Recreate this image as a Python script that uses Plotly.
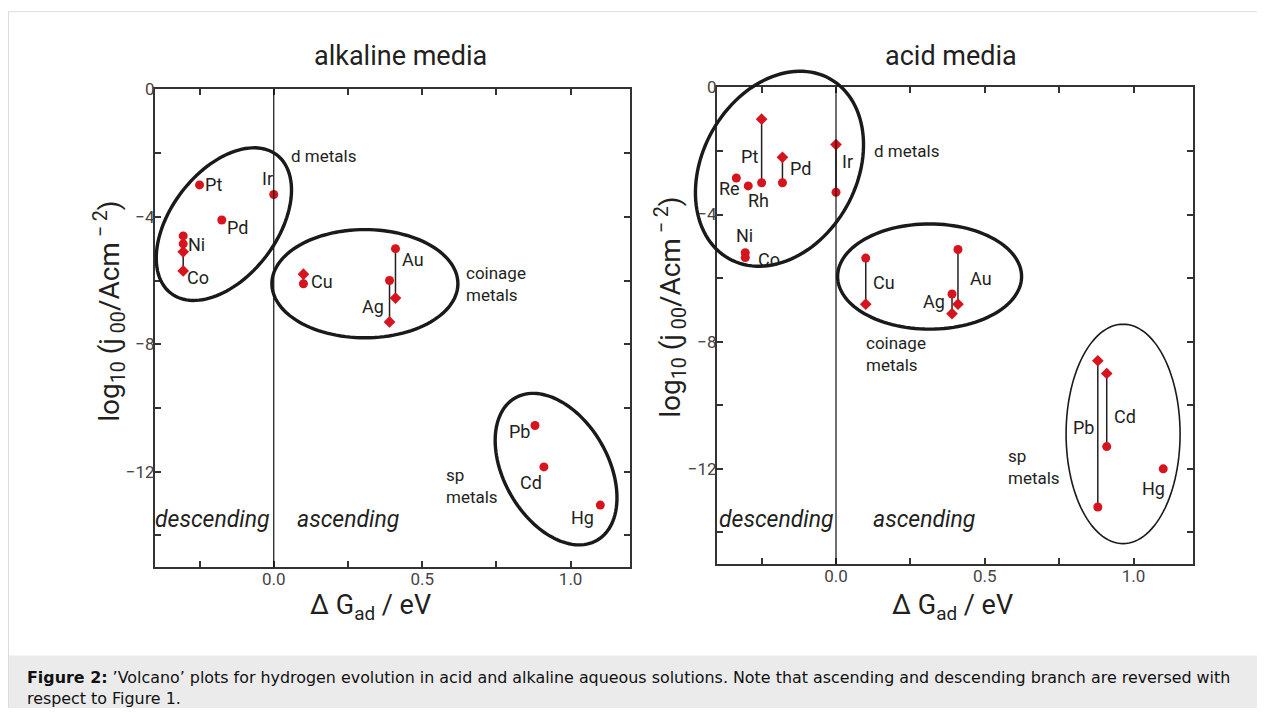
import math
import plotly.graph_objects as go

# ---------------- data ----------------
alk_metals = ["Pt", "Ir", "Pd", "Ni", "Co", "Cu", "Au", "Ag", "Pb", "Cd", "Hg"]
alk_dG = [-0.25, 0.0, -0.175, -0.305, -0.305, 0.10, 0.41, 0.39, 0.88, 0.91, 1.10]
alk_logj_circle = [-3.0, -3.3, -4.1, -4.6, -4.85, -6.1, -5.0, -6.0, -10.55, -11.85, -13.05]
alk_logj_diamond = [None, None, None, -5.1, -5.7, -5.8, -6.55, -7.3, None, None, None]

acid_metals = ["Pt", "Pd", "Ir", "Re", "Rh", "Ni", "Co", "Cu", "Au", "Ag", "Pb", "Cd", "Hg"]
acid_dG = [-0.25, -0.18, 0.0, -0.335, -0.295, -0.305, -0.305, 0.10, 0.41, 0.39, 0.88, 0.91, 1.10]
acid_logj_circle = [-3.0, -3.0, -3.3, -2.85, -3.1, -5.2, -5.35, -5.37, -5.1, -6.5, -13.2, -11.3, -12.0]
acid_logj_diamond = [-1.0, -2.2, -1.8, None, None, None, None, -6.82, -6.82, -7.12, -8.6, -9.0, None]

x_tickvals = [0.0, 0.5, 1.0]
x_ticktext = ["0.0", "0.5", "1.0"]
y_tickvals = [0, -4, -8, -12]
y_ticktext = ["0", "\u22124", "\u22128", "\u221212"]
X_RANGE = [-0.4, 1.2]
Y_RANGE = [-15, 0]

# ---------------- layout geometry (pixels of the 1265x716 page) ----------------
PAGE_OFF = 8                      # default body margin of the html page
W, H = 1265 - 2 * PAGE_OFF, 716 - 2 * PAGE_OFF
V_OFF, V_SCALE = 10.9, 0.9839     # measured vertical placement of the page capture
FONT = "Roboto"
RED = "#d7141e"
INK = "#231f20"

def px(x):
    return (x - PAGE_OFF) / W

def py(y):
    yi = (y - V_OFF) / V_SCALE
    return 1 - (yi - PAGE_OFF) / H

panels = {
    "left": dict(x0=155, x1=630, y0=90, y1=567),
    "right": dict(x0=717, x1=1193, y0=88, y1=564),
}

def data_to_px(panel, xv, yv):
    p = panels[panel]
    sx = (p["x1"] - p["x0"]) / (X_RANGE[1] - X_RANGE[0])
    sy = (p["y1"] - p["y0"]) / (Y_RANGE[1] - Y_RANGE[0])
    return p["x0"] + (xv - X_RANGE[0]) * sx, p["y0"] + (Y_RANGE[1] - yv) * sy

fig = go.Figure()

def add_panel(metals, dG, circ, diam, xa, ya):
    lx, ly = [], []
    for g, c, d in zip(dG, circ, diam):
        if c is not None and d is not None:
            lx += [g, g, None]
            ly += [c, d, None]
    fig.add_trace(go.Scatter(x=lx, y=ly, mode="lines", line=dict(color=INK, width=1.5),
                             xaxis=xa, yaxis=ya, hoverinfo="skip", showlegend=False))
    cx = [g for g, c in zip(dG, circ) if c is not None]
    cy = [c for c in circ if c is not None]
    ct = [m for m, c in zip(metals, circ) if c is not None]
    fig.add_trace(go.Scatter(x=cx, y=cy, mode="markers", text=ct,
                             marker=dict(symbol="circle", size=9, color=RED),
                             xaxis=xa, yaxis=ya, showlegend=False, cliponaxis=False))
    dx = [g for g, d in zip(dG, diam) if d is not None]
    dy = [d for d in diam if d is not None]
    dt = [m for m, d in zip(metals, diam) if d is not None]
    fig.add_trace(go.Scatter(x=dx, y=dy, mode="markers", text=dt,
                             marker=dict(symbol="diamond", size=9, color=RED),
                             xaxis=xa, yaxis=ya, showlegend=False, cliponaxis=False))

add_panel(alk_metals, alk_dG, alk_logj_circle, alk_logj_diamond, "x", "y")
add_panel(acid_metals, acid_dG, acid_logj_circle, acid_logj_diamond, "x2", "y2")

def common_axis():
    return dict(ticks="inside", ticklen=6, tickwidth=1.5, tickcolor="#333",
                showline=True, linecolor="#333", linewidth=2, mirror="ticks",
                showgrid=False, zeroline=False, ticklabelstandoff=-5,
                tickfont=dict(family=FONT, size=17, color="#444"))

def xaxis(panel, anchor):
    p = panels[panel]
    d = common_axis()
    d.update(domain=[px(p["x0"]), px(p["x1"])], range=X_RANGE, anchor=anchor,
             tickvals=x_tickvals, ticktext=x_ticktext,
             minor=dict(ticks="inside", ticklen=6, tickwidth=1.5, tickcolor="#333",
                        tick0=0, dtick=0.25, showgrid=False))
    return d

def yaxis(panel, anchor):
    p = panels[panel]
    d = common_axis()
    d.update(domain=[py(p["y1"]), py(p["y0"])], range=Y_RANGE, anchor=anchor,
             tickvals=y_tickvals, ticktext=y_ticktext,
             minor=dict(ticks="inside", ticklen=6, tickwidth=1.5, tickcolor="#333",
                        tick0=0, dtick=2, showgrid=False))
    return d

shapes = []
# outer frame and caption band
shapes.append(dict(type="rect", xref="paper", yref="paper", x0=px(8.5), x1=px(1290),
                   y0=py(740), y1=py(12.5), line=dict(color="#dcdcdc", width=1),
                   fillcolor="rgba(0,0,0,0)", layer="below"))
shapes.append(dict(type="rect", xref="paper", yref="paper", x0=px(9), x1=px(1290),
                   y0=py(740), y1=py(655), line=dict(width=0),
                   fillcolor="#ebebeb", layer="below"))
# zero lines
for xa, ya in [("x", "y"), ("x2", "y2")]:
    shapes.append(dict(type="line", xref=xa, yref=ya + " domain", x0=0, x1=0, y0=0, y1=1,
                       line=dict(color="#111", width=1.2)))

# group ellipses: centre in data units, semi-axes (px), rotation (deg), line width
ellipses = [
    ("left", -0.168, -4.23, 87, 53, 52.5, 3.4),
    ("left", 0.307, -6.10, 93, 54, 0, 3.4),
    ("left", 0.951, -11.92, 82, 52, -60, 3.4),
    ("right", -0.19, -2.56, 103, 77, 60.5, 3.4),
    ("right", 0.3146, -5.95, 92, 52.5, 0, 3.4),
    ("right", 0.965, -10.9, 57, 109.5, 0, 1.6),
]
for panel, cxv, cyv, a, b, ang, lw in ellipses:
    cxp, cyp = data_to_px(panel, cxv, cyv)
    th = math.radians(ang)
    pts = []
    for i in range(121):
        t = 2 * math.pi * i / 120
        dx = a * math.cos(t) * math.cos(th) - b * math.sin(t) * math.sin(th)
        dy = a * math.cos(t) * math.sin(th) + b * math.sin(t) * math.cos(th)
        pts.append((px(cxp + dx), py(cyp - dy)))
    path = "M " + " L ".join(f"{x:.5f},{y:.5f}" for x, y in pts) + " Z"
    shapes.append(dict(type="path", xref="paper", yref="paper", path=path,
                       line=dict(color="#1a1a1a", width=lw)))

ann = []

def text(x, y, s, size=18, anchor="center", italic=False, angle=0, color=INK, family=FONT):
    ann.append(dict(x=px(x), y=py(y), xref="paper", yref="paper", text=s, showarrow=False,
                    xanchor=anchor, yanchor="middle", textangle=angle,
                    font=dict(family=family, size=size, color=color,
                              style="italic" if italic else "normal")))

# panel titles and axis titles
text(400, 57, "alkaline media", size=27)
text(951, 57, "acid media", size=27)
ytitle = "log<sub>10</sub> (j<sub> 00</sub>/Acm<sup> \u2212 2</sup>)"
text(110, 312, ytitle, size=28, angle=-90)
text(671, 308, ytitle, size=28, angle=-90)
xtitle = "\u0394 G<sub>ad</sub> / eV"
text(370, 607, xtitle, size=27)
text(952, 607, xtitle, size=27)

# alkaline labels
for s, x, y in [("Pt", 213, 185), ("Ir", 267, 179), ("Pd", 237, 228), ("Ni", 196, 245),
                ("Co", 198, 278), ("Cu", 322, 282), ("Au", 413, 260), ("Ag", 373, 307),
                ("Pb", 520, 432), ("Cd", 531, 482), ("Hg", 582, 517)]:
    text(x, y, s)
text(289, 157, "d metals", size=17, anchor="left")
text(464, 273, "coinage", size=17, anchor="left")
text(464, 295, "metals", size=17, anchor="left")
text(444, 475, "sp", size=17, anchor="left")
text(444, 497, "metals", size=17, anchor="left")
text(212, 519, "descending", size=23, italic=True)
text(348, 519, "ascending", size=23, italic=True)

# acid labels
for s, x, y in [("Pt", 749, 157), ("Pd", 800, 169), ("Ir", 847, 162), ("Re", 729, 189),
                ("Rh", 758, 201), ("Ni", 744, 236), ("Co", 769, 260), ("Cu", 884, 283),
                ("Au", 981, 279), ("Ag", 934, 302), ("Pb", 1083, 428), ("Cd", 1125, 417),
                ("Hg", 1153, 488)]:
    text(x, y, s)
text(872, 152, "d metals", size=17, anchor="left")
text(864, 343, "coinage", size=17, anchor="left")
text(864, 365, "metals", size=17, anchor="left")
text(1006, 456, "sp", size=17, anchor="left")
text(1006, 478, "metals", size=17, anchor="left")
text(776, 519, "descending", size=23, italic=True)
text(924, 519, "ascending", size=23, italic=True)

# caption
cap1 = ("<b>Figure 2:</b> \u2019Volcano\u2019 plots for hydrogen evolution in acid and alkaline aqueous "
        "solutions. Note that ascending and descending branch are reversed with")
text(25, 677, cap1, size=15.9, anchor="left", color="#111", family="DejaVu Sans")
text(25, 698, "respect to Figure 1.", size=15.9, anchor="left", color="#111", family="DejaVu Sans")

fig.update_layout(
    width=W, height=H, margin=dict(l=0, r=0, t=0, b=0),
    paper_bgcolor="white", plot_bgcolor="rgba(0,0,0,0)",
    xaxis=xaxis("left", "y"), yaxis=yaxis("left", "x"),
    xaxis2=xaxis("right", "y2"), yaxis2=yaxis("right", "x2"),
    shapes=shapes, annotations=ann, showlegend=False,
    font=dict(family=FONT),
)

fig.write_html("out.html")
